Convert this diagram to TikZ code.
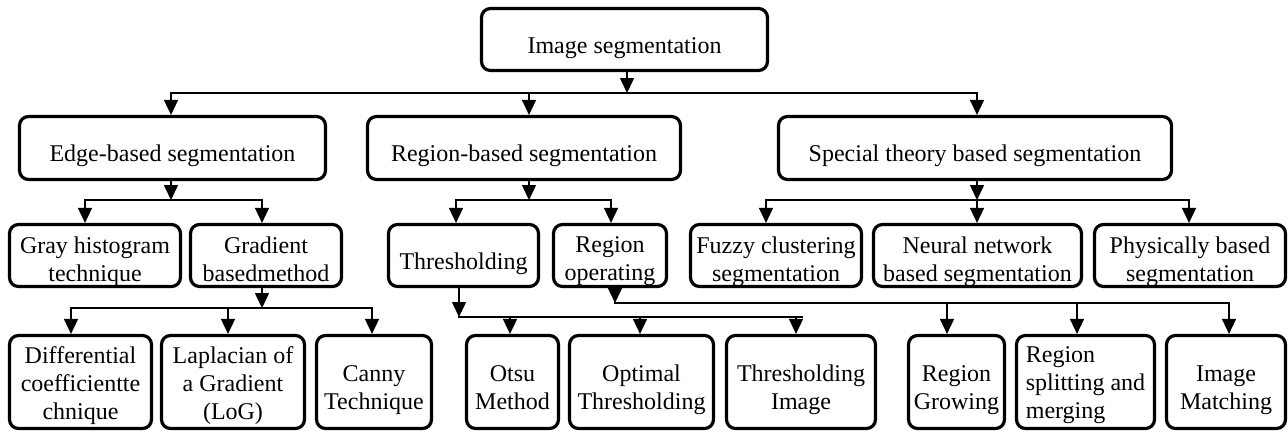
\documentclass[tikz,border=0pt]{standalone}
\usepackage{fontspec}
\setmainfont{Liberation Serif}
\usetikzlibrary{arrows.meta}
\newcommand{\mkbox}[6][]{\node[bx,#4,path picture={\node[txt,#1] at ([yshift=#5]path picture bounding box.center) {#6};}] (#2) at (#3) {};}
\begin{document}
\begin{tikzpicture}[x=1pt,y=-1pt,
  bx/.style={draw, line width=3.2pt, rounded corners=9pt, inner sep=0pt, fill=white},
  txt/.style={draw=none, fill=none, inner sep=0pt, align=center, font=\fontsize{24}{28}\selectfont},
  ln/.style={line width=1.6pt, line cap=rect},
  arr/.style={line width=1.6pt, -{Triangle[length=15pt,width=14pt]}},
  l0/.style={minimum width=#1, minimum height=62pt},
  l1/.style={minimum width=#1, minimum height=63pt},
  l2/.style={minimum width=#1, minimum height=62pt},
  l3/.style={minimum width=#1, minimum height=93pt}]
\useasboundingbox (0,0) rectangle (1288,432);
% level 0
\mkbox{top}{624.5,39.5}{l0=286pt}{-8pt}{\strut Image segmentation}
% level 1
\mkbox{edge}{172.5,148}{l1=306pt}{-7.4pt}{\strut Edge-based segmentation}
\mkbox{region}{524,148}{l1=313pt}{-7.4pt}{\strut Region-based segmentation}
\mkbox{special}{975,148}{l1=393pt}{-7.4pt}{\strut Special theory based segmentation}
% level 2
\mkbox{gray}{95,255.5}{l2=171pt}{-6pt}{\strut Gray histogram\\\strut technique}
\mkbox{grad}{266,255.5}{l2=151pt}{-6pt}{\strut Gradient\\\strut basedmethod}
\mkbox{thresh}{463.5,255.5}{l2=150pt}{-8pt}{\strut Thresholding}
\mkbox{regop}{610,255.5}{l2=113pt}{-5pt}{\strut Region\\\strut operating}
\mkbox{fuzzy}{776,255.5}{l2=171pt}{-6pt}{\strut Fuzzy clustering\\\strut segmentation}
\mkbox{neural}{977.5,255.5}{l2=208pt}{-6pt}{\strut Neural network\\\strut based segmentation}
\mkbox{phys}{1190,255.5}{l2=191pt}{-6pt}{\strut Physically based\\\strut segmentation}
% level 3
\mkbox{diff}{80.5,382}{l3=142pt}{-3.4pt}{\strut Differential\\\strut coefficientte\\\strut chnique}
\mkbox{lap}{233,382}{l3=143pt}{-3.4pt}{\strut Laplacian of\\\strut a Gradient\\\strut (LoG)}
\mkbox{canny}{374,382}{l3=115pt}{-7.4pt}{\strut Canny\\\strut Technique}
\mkbox{otsu}{512.5,382}{l3=92pt}{-7.4pt}{\strut Otsu\\\strut Method}
\mkbox{optimal}{641.5,382}{l3=144pt}{-7.4pt}{\strut Optimal\\\strut Thresholding}
\mkbox{timage}{801,382}{l3=149pt}{-7.4pt}{\strut Thresholding\\\strut Image}
\mkbox{growing}{956.5,382}{l3=96pt}{-7.4pt}{\strut Region\\\strut Growing}
\mkbox[align=left]{split}{1085.5,382}{l3=138pt}{-2.4pt}{\strut Region\\\strut splitting and\\\strut merging}
\mkbox{matching}{1226,382}{l3=119pt}{-7.4pt}{\strut Image\\\strut Matching}
% bus: top -> level 1
\coordinate (t0) at (627,93);
\coordinate (t0l) at (171,93);
\coordinate (t0m) at (529,93);
\coordinate (t0r) at (977,93);
\draw[arr] (top.south -| t0) -- (t0);
\draw[ln] (t0l) -- (t0r);
\draw[arr] (t0l) -- (edge.north -| t0l);
\draw[arr] (t0m) -- (region.north -| t0m);
\draw[arr] (t0r) -- (special.north -| t0r);
% edge -> level 2
\coordinate (e0) at (171,200);
\coordinate (e0l) at (85,200);
\coordinate (e0r) at (262,200);
\draw[arr] (edge.south -| e0) -- (e0);
\draw[ln] (e0l) -- (e0r);
\draw[arr] (e0l) -- (gray.north -| e0l);
\draw[arr] (e0r) -- (grad.north -| e0r);
% region -> level 2
\coordinate (r0) at (529,200);
\coordinate (r0l) at (456,200);
\coordinate (r0r) at (611,200);
\draw[arr] (region.south -| r0) -- (r0);
\draw[ln] (r0l) -- (r0r);
\draw[arr] (r0l) -- (thresh.north -| r0l);
\draw[arr] (r0r) -- (regop.north -| r0r);
% special -> level 2
\coordinate (s0) at (977,200);
\coordinate (s0l) at (766,200);
\coordinate (s0r) at (1189,200);
\draw[arr] (special.south -| s0) -- (s0);
\draw[ln] (s0l) -- (s0r);
\draw[arr] (s0l) -- (fuzzy.north -| s0l);
\draw[arr] (s0) -- (neural.north -| s0);
\draw[arr] (s0r) -- (phys.north -| s0r);
% gradient -> level 3
\coordinate (g0) at (262,308);
\coordinate (g0l) at (71,308);
\coordinate (g0m) at (228,308);
\coordinate (g0r) at (372,308);
\draw[arr] (grad.south -| g0) -- (g0);
\draw[ln] (g0l) -- (g0r);
\draw[arr] (g0l) -- (diff.north -| g0l);
\draw[arr] (g0m) -- (lap.north -| g0m);
\draw[arr] (g0r) -- (canny.north -| g0r);
% thresholding -> level 3
\coordinate (h0) at (459,317);
\coordinate (h0a) at (510,317);
\coordinate (h0b) at (640,317);
\coordinate (h0c) at (796,317);
\coordinate (h0r) at (802,317);
\draw[arr] (thresh.south -| h0) -- (h0);
\draw[ln] (h0) -- (h0r);
\draw[arr] (h0a) -- (otsu.north -| h0a);
\draw[arr] (h0b) -- (optimal.north -| h0b);
\draw[arr] (h0c) -- (timage.north -| h0c);
% region operating -> level 3
\coordinate (o0) at (615,303);
\coordinate (o0a) at (947,303);
\coordinate (o0b) at (1077,303);
\coordinate (o0c) at (1229,303);
\draw[arr] (regop.south -| o0) -- (o0);
\draw[ln] (o0) -- (o0c);
\draw[arr] (o0a) -- (growing.north -| o0a);
\draw[arr] (o0b) -- (split.north -| o0b);
\draw[arr] (o0c) -- (matching.north -| o0c);
\end{tikzpicture}
\end{document}
